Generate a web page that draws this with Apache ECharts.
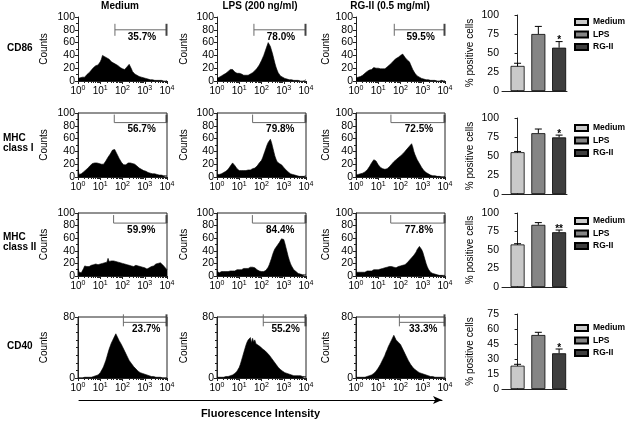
<!DOCTYPE html>
<html><head><meta charset="utf-8">
<script src="https://cdn.jsdelivr.net/npm/echarts@6/dist/echarts.min.js"></script>
<style>html,body{margin:0;padding:0;background:#fff}#c{width:625px;height:421px}</style>
</head><body><div id="c"></div>
<script>
// ---------- labels ----------
const markers = ['CD86', 'MHC\nclass I', 'MHC\nclass II', 'CD40'];
const treatments = ['Medium', 'LPS (200 ng/ml)', 'RG-II (0.5 mg/ml)'];
const categories = ['Medium', 'LPS', 'RG-II'];
const decadeExponents = [0, 1, 2, 3, 4];

// ---------- histogram bins (log10 fluorescence, step 0.05) ----------
const logBins = [];
for (let i = 0; i <= 80; i++) logBins.push(+(i * 0.05).toFixed(2));

// ---------- histogram counts ----------
const cd86Medium = [4,3,5,4,6,7,6,9,10,12, 13,15,17,18,21,22,24,26,25,28, 30,34,40,37,38,35,36,33,34,31, 30,31,28,29,26,27,24,22,21,20, 19,20,18,20,22,24,26,23,19,15, 13,11,10,9,8,7,7,6,5,5, 4,4,3,3,3,2,2,2,2,1, 1,1,1,1,1,1,1,0,1,0, 1];
const cd86LPS = [4,5,6,7,8,9,10,11,12,14, 15,16,18,19,18,16,14,13,12,11, 12,10,11,10,9,10,9,10,9,10, 11,12,13,14,16,18,20,22,25,28, 32,36,40,45,50,55,60,58,54,48, 42,35,28,22,17,13,10,8,7,6, 5,4,4,3,3,2,2,2,1,1, 1,1,1,1,1,0,1,0,0,1, 2];
const cd86RG = [5,4,6,5,7,8,9,11,12,14, 15,16,17,19,18,20,21,19,20,19, 20,18,19,18,19,20,19,21,22,24, 25,27,28,30,32,31,35,34,37,38, 40,43,42,39,37,35,33,32,30,26, 22,18,15,12,10,8,7,6,5,4, 4,3,3,2,2,2,1,1,1,1, 1,1,1,0,1,0,0,1,0,0, 1];
const mhc1Medium = [12,4,3,5,6,8,9,11,12,14, 16,18,20,21,23,22,21,22,20,21, 19,20,18,20,22,25,28,31,34,36, 39,42,45,43,40,36,33,29,26,23, 21,19,18,19,21,22,23,22,23,21, 22,20,19,17,16,14,13,12,11,10, 9,9,8,7,7,6,6,5,5,5, 4,4,4,3,3,3,3,2,3,2, 2];
const mhc1LPS = [4,3,4,5,5,6,7,8,9,10, 12,14,17,20,22,21,18,15,13,11, 10,9,10,11,10,11,10,12,11,12, 11,12,13,12,14,15,17,19,22,25, 26,30,35,40,45,50,54,57,59,54, 47,40,33,28,24,22,21,20,19,17, 15,13,11,9,8,6,5,4,4,3, 3,2,2,2,1,1,1,1,1,1, 2];
const mhc1RG = [3,3,4,4,5,6,6,7,8,9, 11,13,16,19,22,25,27,28,25,22, 19,17,15,14,13,12,12,12,13,14, 16,18,20,22,24,26,27,29,30,31, 33,34,36,38,40,42,44,45,48,50, 52,47,40,35,31,27,24,21,18,15, 12,10,8,7,6,5,4,3,3,2, 2,2,1,1,1,1,1,0,1,0, 1];
const mhc2Medium = [12,6,4,5,8,12,16,14,15,17, 15,16,17,15,18,16,19,17,18,20, 19,21,20,22,21,24,22,28,23,25, 24,26,24,25,23,24,22,23,21,22, 20,21,19,20,18,19,17,18,16,17, 15,16,17,15,16,14,15,13,14,12, 13,12,11,12,13,14,15,17,16,18, 19,21,20,22,21,20,18,16,14,12, 10];
const mhc2LPS = [8,6,5,6,7,6,7,8,7,8, 7,8,8,7,8,9,8,9,10,9, 10,11,10,11,12,11,12,13,12,13, 14,13,14,15,13,12,10,9,8,7, 7,6,7,8,9,11,14,18,23,28, 34,39,43,46,48,50,53,56,59,62, 58,52,45,38,31,25,20,16,13,10, 8,7,5,4,4,3,3,2,2,2, 3];
const mhc2RG = [6,5,6,5,6,7,6,7,6,7, 8,7,8,9,8,9,10,9,10,11, 10,12,11,13,12,14,13,15,14,16, 15,17,15,16,14,15,13,14,15,14, 16,15,17,16,18,19,21,23,25,27, 29,31,33,35,38,42,45,47,45,42, 38,32,26,20,15,11,8,6,5,4, 3,3,2,2,2,1,1,1,1,1, 1];
const cd40Medium = [0,0,0,0,0,0,1,0,1,1, 1,1,1,2,2,2,3,3,4,5, 7,9,12,15,19,23,28,33,38,42, 46,49,52,54,58,55,52,49,47,44, 41,38,35,32,29,26,23,21,19,17, 15,13,12,10,9,8,7,6,6,5, 5,4,4,3,3,3,2,2,2,2, 1,1,1,1,1,1,0,1,0,0, 0];
const cd40LPS = [1,1,1,1,1,1,1,2,2,2, 2,3,3,4,4,5,6,7,9,11, 14,18,23,28,33,38,43,47,50,48, 53,46,52,47,50,45,46,43,42,41, 40,38,37,36,34,33,31,30,28,26, 24,22,20,18,16,14,12,11,10,9, 8,7,6,6,5,5,4,4,4,3, 3,3,3,3,2,3,2,2,2,2, 2];
const cd40RG = [1,0,1,0,1,1,1,1,1,2, 2,2,3,3,4,5,6,7,9,11, 13,15,18,21,24,27,30,34,37,41, 44,47,50,52,56,53,50,51,47,48, 44,41,38,35,32,29,26,23,21,18, 16,14,12,11,10,9,8,7,6,6, 5,5,4,4,3,3,3,2,2,2, 2,1,1,1,1,1,1,1,0,1, 1];

// ---------- gates ----------
const gatePct = [[35.7, 78.0, 59.5], [56.7, 79.8, 72.5], [59.9, 84.4, 77.8], [23.7, 55.2, 33.3]];
const gateStart = [[1.66, 1.66, 1.72], [1.63, 1.60, 1.57], [1.60, 1.59, 1.56], [2.04, 2.08, 1.95]];
const gateLevel = [80, 85, 84, 73];
const histYMax = [100, 100, 100, 80];
const histYInterval = [20, 20, 20, 80];

// ---------- bar charts ----------
const barMeans = [[33, 75, 57], [55, 80, 74.5], [57.5, 84, 74], [23.3, 54, 35.7]];
const barErrTop = [[36.5, 85, 65], [56, 85.5, 77.5], [58.5, 87, 77], [24.7, 56.7, 40]];
const barSig = [['', '', '*'], ['', '', '*'], ['', '', '**'], ['', '', '*']];
const barYMax = [100, 100, 100, 75];
const barYInterval = [25, 25, 25, 15];

// ---------- styles / layout ----------
const FONT = 'Liberation Sans, Arial, Helvetica, sans-serif';
const barColors = ['#c9c9c9', '#858585', '#3e3e3e'];
const colLeft = [78, 217, 356], histW = 89;
const rowTop = [17, 113, 213, 317], rowH = [64, 64, 63, 61];
const countsGap = [29, 28, 25];
const framed = [false, true, true, true];
const gateTick = [[6, 6], [8, 0], [8, 0], [8, 4]];
const barTop = [15, 118, 213, 314], barH = [76, 76, 74, 75];
const legendTop = [16, 122, 215, 322];
const rowLabelPos = [[7, 48], [3, 143], [3, 242], [7, 346]];
const titleX = [120, 260, 390];

const histData = [
  [cd86Medium, cd86LPS, cd86RG],
  [mhc1Medium, mhc1LPS, mhc1RG],
  [mhc2Medium, mhc2LPS, mhc2RG],
  [cd40Medium, cd40LPS, cd40RG]
];
const minorLogTicks = [];
for (let d = 0; d < 4; d++) for (let k = 2; k <= 9; k++) minorLogTicks.push(d + Math.log10(k));

const grid = [], xAxis = [], yAxis = [], series = [], legend = [], graphic = [];
const axCol = '#222';

for (let r = 0; r < 4; r++) {
  for (let c = 0; c < 3; c++) {
    const gi = grid.length;
    grid.push({ left: colLeft[c], top: rowTop[r], width: histW, height: rowH[r], show: framed[r],
      borderColor: axCol, borderWidth: 1, backgroundColor: 'transparent' });
    const xi = xAxis.length;
    xAxis.push({ type: 'value', gridIndex: gi, min: 0, max: 4, interval: 1,
      axisLine: { show: true, onZero: false, lineStyle: { color: axCol, width: 1 } },
      axisTick: { show: true, length: 3, lineStyle: { color: axCol } },
      splitLine: { show: false },
      axisLabel: { fontSize: 10, color: '#000', margin: 4, fontFamily: FONT, lineHeight: 12,
        showMinLabel: true, showMaxLabel: true,
        formatter: v => '10{s|' + decadeExponents[Math.round(v)] + '}',
        rich: { s: { fontSize: 7, verticalAlign: 'top', lineHeight: 8, fontFamily: FONT, color: '#000' } } } });
    xAxis.push({ type: 'value', gridIndex: gi, min: 0, max: 4, position: 'bottom',
      axisLine: { show: false }, axisLabel: { show: false }, splitLine: { show: false },
      axisTick: { show: true, length: 2, customValues: minorLogTicks, lineStyle: { color: axCol } } });
    const yi = yAxis.length;
    yAxis.push({ type: 'value', gridIndex: gi, min: 0, max: histYMax[r], interval: histYInterval[r],
      name: 'Counts', nameLocation: 'middle', nameGap: countsGap[c],
      nameTextStyle: { fontSize: 10, color: '#000', fontFamily: FONT },
      axisLine: { show: true, lineStyle: { color: axCol, width: 1 } },
      axisTick: { show: true, length: 3, lineStyle: { color: axCol } },
      minorTick: { show: true, splitNumber: histYMax[r] === 80 ? 8 : 2, length: 2, lineStyle: { color: axCol } },
      splitLine: { show: false }, minorSplitLine: { show: false },
      axisLabel: { fontSize: 10.5, color: '#000', margin: 3, fontFamily: FONT } });
    const counts = histData[r][c];
    series.push({ type: 'line', xAxisIndex: xi, yAxisIndex: yi, silent: true, z: 2,
      data: logBins.map((x, i) => [x, counts[i]]), symbol: 'none',
      lineStyle: { color: '#000', width: 0.6 }, areaStyle: { color: '#000', opacity: 1 } });
    const rr = r, cc = c;
    series.push({ type: 'custom', xAxisIndex: xi, yAxisIndex: yi, silent: true, z: 3,
      data: [[gateStart[r][c], gateLevel[r]]],
      renderItem: (params, api) => {
        const a = api.coord([api.value(0), api.value(1)]);
        const b = api.coord([4, api.value(1)]);
        const up = gateTick[rr][0], dn = gateTick[rr][1];
        const st = { stroke: '#6a6a6a', lineWidth: 1 };
        return { type: 'group', children: [
          { type: 'line', shape: { x1: a[0], y1: a[1], x2: b[0], y2: b[1] }, style: st },
          { type: 'line', shape: { x1: a[0], y1: a[1] - up, x2: a[0], y2: a[1] + dn }, style: st },
          { type: 'line', shape: { x1: b[0] - 0.5, y1: b[1] - up, x2: b[0] - 0.5, y2: b[1] + dn }, style: { stroke: '#444', lineWidth: 2 } },
          { type: 'text', x: (a[0] + b[0]) / 2 + 1, y: a[1] + 2,
            style: { text: gatePct[rr][cc].toFixed(1) + '%', fontSize: 10, fontWeight: 'bold', fontFamily: FONT,
              fill: '#000', textAlign: 'center', textVerticalAlign: 'top' } }
        ] };
      } });
  }
  // bar chart
  const gi = grid.length;
  grid.push({ left: 502, top: barTop[r], width: 65, height: barH[r] });
  const xi = xAxis.length;
  xAxis.push({ type: 'value', gridIndex: gi, min: -0.75, max: 2.38,
    axisLine: { show: true, onZero: false, lineStyle: { color: axCol, width: 1 } },
    axisTick: { show: false }, axisLabel: { show: false }, splitLine: { show: false } });
  const yi = yAxis.length;
  yAxis.push({ type: 'value', gridIndex: gi, min: 0, max: barYMax[r], interval: barYInterval[r],
    name: '% positive cells', nameLocation: 'middle', nameGap: 27,
    nameTextStyle: { fontSize: 10, color: '#000', fontFamily: FONT },
    axisLine: { show: true, lineStyle: { color: axCol, width: 1 } },
    axisTick: { show: true, length: 3, lineStyle: { color: axCol } },
    splitLine: { show: false },
    axisLabel: { fontSize: 10.5, color: '#000', margin: 3, fontFamily: FONT } });
  categories.forEach((cat, i) => {
    series.push({ type: 'bar', name: cat, xAxisIndex: xi, yAxisIndex: yi, data: [[i, barMeans[r][i]]],
      barWidth: 14, barGap: '-100%', silent: true,
      itemStyle: { color: barColors[i], borderColor: '#000', borderWidth: 0.8 } });
  });
  const rr = r;
  series.push({ type: 'custom', xAxisIndex: xi, yAxisIndex: yi, silent: true, z: 5,
    data: categories.map((cat, i) => [i, barMeans[r][i], barErrTop[r][i]]),
    renderItem: (params, api) => {
      const p0 = api.coord([api.value(0), api.value(1)]);
      const p1 = api.coord([api.value(0), api.value(2)]);
      const st = { stroke: '#000', lineWidth: 1 };
      const ch = [
        { type: 'line', shape: { x1: p0[0], y1: p0[1], x2: p1[0], y2: p1[1] }, style: st },
        { type: 'line', shape: { x1: p1[0] - 3.5, y1: p1[1], x2: p1[0] + 3.5, y2: p1[1] }, style: st }
      ];
      const s = barSig[rr][params.dataIndex];
      if (s) ch.push({ type: 'text', x: p1[0], y: p1[1] + 4,
        style: { text: s, fontSize: 10, fontWeight: 'bold', fontFamily: FONT, fill: '#000',
          textAlign: 'center', textVerticalAlign: 'bottom' } });
      return { type: 'group', children: ch };
    } });
  legend.push({ data: categories, orient: 'vertical', left: 574, top: legendTop[r],
    itemWidth: 13, itemHeight: 6, itemGap: 0.5, padding: 0, selectedMode: false, icon: 'rect',
    textStyle: { fontSize: 8.5, fontWeight: 'bold', color: '#000', lineHeight: 12, fontFamily: FONT } });
}

// Fluorescence intensity arrow axis
{
  const gi = grid.length;
  grid.push({ left: 79, top: 399, width: 363, height: 1 });
  xAxis.push({ type: 'value', gridIndex: gi, min: 0, max: 1,
    axisLine: { show: true, symbol: ['none', 'arrow'], symbolSize: [6, 9], lineStyle: { color: '#000', width: 1 } },
    axisTick: { show: false }, axisLabel: { show: false }, splitLine: { show: false },
    name: 'Fluorescence Intensity', nameLocation: 'middle', nameGap: 8,
    nameTextStyle: { fontSize: 11, fontWeight: 'bold', color: '#000', fontFamily: FONT } });
  yAxis.push({ type: 'value', gridIndex: gi, show: false });
}

treatments.forEach((t, i) => graphic.push({ type: 'text', x: titleX[i], y: 6,
  style: { text: t, fontSize: 10, fontWeight: 'bold', fontFamily: FONT, fill: '#000', textAlign: 'center', textVerticalAlign: 'middle' } }));
markers.forEach((m, i) => graphic.push({ type: 'text', x: rowLabelPos[i][0], y: rowLabelPos[i][1],
  style: { text: m, fontSize: 10, fontWeight: 'bold', fontFamily: FONT, fill: '#000', lineHeight: 10, textAlign: 'left', textVerticalAlign: 'middle' } }));

const chart = echarts.init(document.getElementById('c'), null, { renderer: 'canvas' });
chart.setOption({ animation: false, backgroundColor: '#fff', textStyle: { fontFamily: FONT },
  grid, xAxis, yAxis, series, legend, graphic });
</script></body></html>
